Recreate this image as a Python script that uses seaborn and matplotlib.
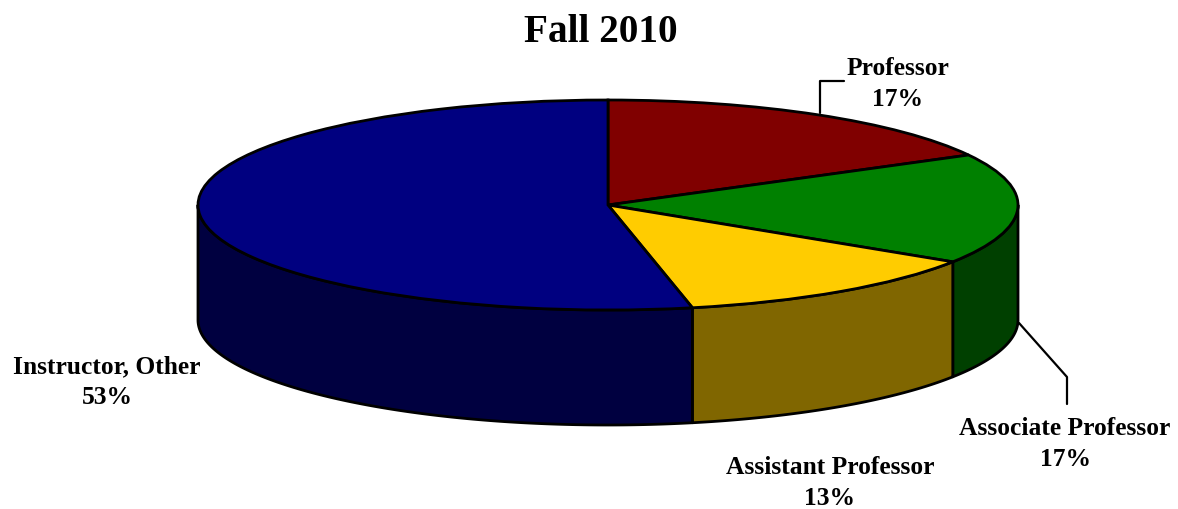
import numpy as np
import matplotlib
matplotlib.use('Agg')
import matplotlib.pyplot as plt
import seaborn as sns

labels = ['Professor', 'Associate Professor', 'Assistant Professor', 'Instructor, Other']
values = [17.1, 17.0, 12.6, 53.3]
tops = ['#800000', '#008000', '#FFCC00', '#000080']
sides = ['#400000', '#004000', '#806600', '#000040']

sns.set_theme(style='white')
plt.rcParams['font.family'] = ['Liberation Serif', 'DejaVu Serif']

W, H = 1178, 509
# srodek i polosie elipsy w pikselach
cx, cy, rx, ry, depth = 608, 205, 410, 105, 115


def to_ax(px, py):
    return (px - cx) / rx, (cy - py) / ry


fig = plt.figure(figsize=(W / 100, H / 100), dpi=100)
ax = fig.add_axes([0, 0, 1, 1])

# gora tortu
wedges, _ = ax.pie(values, colors=tops, startangle=90, counterclock=False,
                   wedgeprops={'edgecolor': 'black', 'linewidth': 2, 'zorder': 3})
ax.set_aspect('auto')
ax.set_xlim(to_ax(0, 0)[0], to_ax(W, 0)[0])
ax.set_ylim(to_ax(0, H)[1], to_ax(0, 0)[1])

# boczna sciana, tylko przednia polowa (katy od 0 do -180)
d = depth / ry
ends = 90 - np.cumsum(values) * 3.6
starts = ends + np.array(values) * 3.6
for a0, a1, c in zip(starts, ends, sides):
    hi, lo = min(a0, 0), max(a1, -180)
    if hi <= lo:
        continue
    t = np.radians(np.linspace(lo, hi, 200))
    x = np.cos(t)
    y = np.sin(t)
    ax.fill(np.r_[x, x[::-1]], np.r_[y, y[::-1] - d], facecolor=c,
            edgecolor='black', linewidth=2, zorder=2, joinstyle='round')

# linie odniesienia
ax.plot(*zip(to_ax(820, 113), to_ax(820, 81), to_ax(844, 81)), color='black', lw=1.6, zorder=1)
ax.plot(*zip(to_ax(1019, 323), to_ax(1067, 377), to_ax(1067, 404)), color='black', lw=1.6, zorder=1)

# etykiety
text_pos = [(898, 84), (1065, 444), (830, 483), (107, 382)]
for name, v, (px, py) in zip(labels, values, text_pos):
    ax.text(*to_ax(px, py), f'{name}\n{v:.0f}%', ha='center', va='center', fontsize=18.4,
            fontweight='bold', color='black', linespacing=1.42, zorder=5)

ax.text(*to_ax(601, 33), 'Fall 2010', ha='center', va='center', fontsize=28.3,
        fontweight='bold', color='black')

fig.savefig('out.png', dpi=100, facecolor='white')
